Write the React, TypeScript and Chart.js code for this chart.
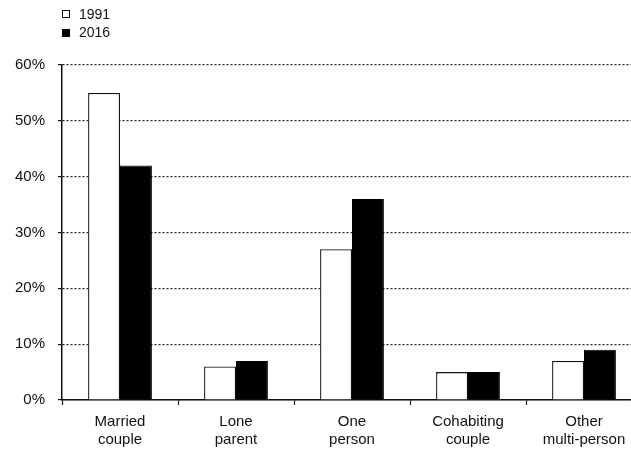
import React, { useEffect, useRef } from "react";
import { Chart, registerables } from "chart.js";

Chart.register(...registerables);

const categories: (string | string[])[] = [
  ["Married", "couple"],
  ["Lone", "parent"],
  ["One", "person"],
  ["Cohabiting", "couple"],
  ["Other", "multi-person"],
];
const values1991: number[] = [55, 6, 27, 5, 7];
const values2016: number[] = [42, 7, 36, 5, 9];
const seriesLabels: string[] = ["1991", "2016"];
const yTicks: number[] = [0, 10, 20, 30, 40, 50, 60];

const FONT = '"Liberation Sans", Arial, Helvetica, sans-serif';

export default function App() {
  const ref = useRef<HTMLCanvasElement | null>(null);

  useEffect(() => {
    if (!ref.current) return;
    const chart = new Chart(ref.current, {
      type: "bar",
      data: {
        labels: categories,
        datasets: [
          {
            label: seriesLabels[0],
            data: values1991,
            backgroundColor: "#ffffff",
            borderColor: "#111111",
            borderWidth: 1.3,
            categoryPercentage: 0.55,
            barPercentage: 1.0,
          },
          {
            label: seriesLabels[1],
            data: values2016,
            backgroundColor: "#000000",
            borderColor: "#000000",
            borderWidth: 1,
            categoryPercentage: 0.55,
            barPercentage: 1.0,
          },
        ],
      },
      options: {
        responsive: false,
        animation: false,
        devicePixelRatio: 1,
        layout: { padding: { top: 65, right: 18, left: 0, bottom: 0 } },
        plugins: {
          legend: { display: false },
          tooltip: { enabled: false },
        },
        scales: {
          x: {
            grid: {
              display: true,
              drawOnChartArea: false,
              drawTicks: true,
              tickLength: 5,
              tickColor: "#111",
              tickWidth: 1.2,
              offset: true,
            },
            border: { display: true, color: "#111", width: 1.5 },
            ticks: {
              color: "#111",
              padding: 7,
              maxRotation: 0,
              autoSkip: false,
              font: { family: FONT, size: 15, lineHeight: 1.25 },
            },
            afterFit: (scale: any) => {
              scale.height = 49;
            },
          },
          y: {
            min: 0,
            max: 60,
            afterBuildTicks: (scale: any) => {
              scale.ticks = yTicks.map((v) => ({ value: v }));
            },
            grid: {
              color: "#222",
              lineWidth: 1.2,
              drawTicks: true,
              tickLength: 4,
              tickColor: "#111",
              tickWidth: 1.2,
              tickBorderDash: [],
            },
            border: { display: true, color: "#111", width: 1.5, dash: [2, 2] },
            ticks: {
              color: "#111",
              padding: 13,
              callback: (v: any) => `${v}%`,
              font: { family: FONT, size: 15 },
            },
            afterFit: (scale: any) => {
              scale.width = 62;
            },
          },
        },
      },
    });
    return () => chart.destroy();
  }, []);

  const legendText: React.CSSProperties = {
    position: "absolute",
    left: 79,
    fontFamily: FONT,
    fontSize: 14,
    lineHeight: "16px",
    color: "#111",
  };

  return (
    <div
      style={{
        position: "fixed",
        left: 0,
        top: 0,
        width: 631,
        height: 449,
        overflow: "hidden",
        background: "#fff",
      }}
    >
      <canvas ref={ref} width={660} height={449} style={{ display: "block", width: 660, height: 449 }} />
      <div
        style={{
          position: "absolute",
          left: 62,
          top: 10,
          width: 6,
          height: 6,
          border: "1.2px solid #111",
          background: "#fff",
        }}
      />
      <div style={{ ...legendText, top: 6 }}>{seriesLabels[0]}</div>
      <div
        style={{
          position: "absolute",
          left: 62,
          top: 29,
          width: 8,
          height: 8,
          background: "#000",
        }}
      />
      <div style={{ ...legendText, top: 24 }}>{seriesLabels[1]}</div>
    </div>
  );
}
